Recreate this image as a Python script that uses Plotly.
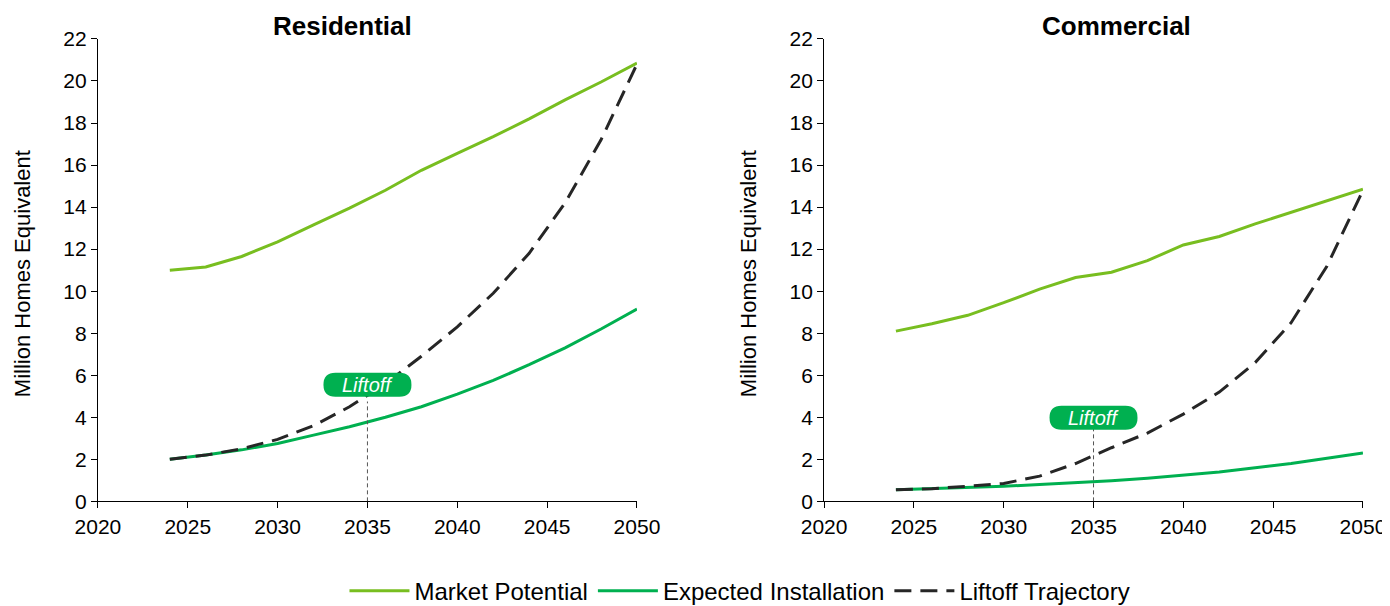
import plotly.graph_objects as go

years = [2024, 2026, 2028, 2030, 2032, 2034, 2036, 2038, 2040, 2042, 2044, 2046, 2048, 2050]

res_market = [11.0, 11.15, 11.65, 12.35, 13.15, 13.95, 14.8, 15.75, 16.55, 17.35, 18.2, 19.1, 19.95, 20.85]
res_expected = [2.0, 2.2, 2.45, 2.75, 3.15, 3.55, 4.0, 4.5, 5.1, 5.75, 6.5, 7.3, 8.2, 9.15]
res_liftoff = [2.0, 2.2, 2.5, 2.95, 3.6, 4.5, 5.6, 6.9, 8.3, 9.9, 11.8, 14.2, 17.2, 20.8]

com_market = [8.1, 8.45, 8.85, 9.45, 10.1, 10.65, 10.9, 11.45, 12.2, 12.6, 13.2, 13.75, 14.3, 14.85]
com_expected = [0.55, 0.6, 0.65, 0.72, 0.8, 0.88, 0.98, 1.1, 1.25, 1.4, 1.6, 1.8, 2.05, 2.3]
com_liftoff = [0.55, 0.6, 0.72, 0.85, 1.2, 1.8, 2.55, 3.25, 4.15, 5.2, 6.6, 8.5, 11.2, 14.8]

liftoff_year = 2035
res_label_y = 5.55
com_label_y = 3.98
res_vline_top = 4.75
com_vline_top = 3.45

panel_titles = ["Residential", "Commercial"]
series_names = ["Market Potential", "Expected Installation", "Liftoff Trajectory"]
y_ticks = list(range(0, 23, 2))
x_ticks = list(range(2020, 2051, 5))

C_MARKET = "#78BE20"
C_EXPECTED = "#00B050"
C_LIFTOFF = "#262626"
FONT = "Liberation Sans, Arial, sans-serif"

fig = go.Figure()

panels = [
    ("x", "y", res_market, res_expected, res_liftoff, True),
    ("x2", "y2", com_market, com_expected, com_liftoff, False),
]
for xa, ya, m, e, l, show in panels:
    fig.add_trace(go.Scatter(x=years, y=m, mode="lines", name=series_names[0],
                             line=dict(color=C_MARKET, width=3), xaxis=xa, yaxis=ya,
                             showlegend=show, legendgroup="m"))
    fig.add_trace(go.Scatter(x=years, y=e, mode="lines", name=series_names[1],
                             line=dict(color=C_EXPECTED, width=3), xaxis=xa, yaxis=ya,
                             showlegend=show, legendgroup="e"))
    fig.add_trace(go.Scatter(x=years, y=l, mode="lines", name=series_names[2],
                             line=dict(color=C_LIFTOFF, width=3, dash="17px,9px"),
                             xaxis=xa, yaxis=ya, showlegend=show, legendgroup="l"))

axis_common = dict(showgrid=False, zeroline=False, showline=True, linecolor="#000000",
                   linewidth=1, ticks="outside", ticklen=6, tickcolor="#000000",
                   automargin=False,
                   tickfont=dict(family=FONT, size=21, color="#000000"))

fig.update_layout(
    width=1390, height=606,
    margin=dict(l=0, r=0, t=0, b=0),
    paper_bgcolor="white", plot_bgcolor="white",
    xaxis=dict(domain=[0.0647, 0.4525], range=[2020, 2050], tickvals=x_ticks, anchor="y", **axis_common),
    yaxis=dict(domain=[0.1832, 0.9488], range=[0, 22], tickvals=y_ticks, anchor="x", **axis_common),
    xaxis2=dict(domain=[0.5871, 0.9748], range=[2020, 2050], tickvals=x_ticks, anchor="y2", **axis_common),
    yaxis2=dict(domain=[0.1832, 0.9488], range=[0, 22], tickvals=y_ticks, anchor="x2", **axis_common),
    legend=dict(orientation="h", x=0.5266, xanchor="center", y=0.0347, yanchor="middle",
                font=dict(family=FONT, size=24, color="#000000"), itemwidth=60,
                tracegroupgap=0),
    showlegend=True,
)

# panel titles
for xc, t in [(0.2403, panel_titles[0]), (0.7978, panel_titles[1])]:
    fig.add_annotation(x=xc, y=0.970, xref="paper", yref="paper", text="<b>%s</b>" % t,
                       showarrow=False, font=dict(family=FONT, size=26, color="#000000"),
                       xanchor="center", yanchor="middle")

# y axis titles
for xc in [0.0101, 0.5324]:
    fig.add_annotation(x=xc, y=0.5594, xref="paper", yref="paper", text="Million Homes Equivalent",
                       textangle=-90, showarrow=False,
                       font=dict(family=FONT, size=22, color="#000000"),
                       xanchor="center", yanchor="middle")

# liftoff markers
for xa, ya, ly, vt in [("x", "y", res_label_y, res_vline_top), ("x2", "y2", com_label_y, com_vline_top)]:
    fig.add_shape(type="line", xref=xa, yref=ya, x0=liftoff_year, x1=liftoff_year, y0=0, y1=vt,
                  line=dict(color="#555555", width=1, dash="4px,3px"))
    w, h, r = 44, 12, 12
    path = ("M %g,%g L %g,%g Q %g,%g %g,%g L %g,%g Q %g,%g %g,%g L %g,%g Q %g,%g %g,%g "
            "L %g,%g Q %g,%g %g,%g Z") % (
        -w + r, h, w - r, h, w, h, w, 0, w, 0, w, -h, w - r, -h,
        -w + r, -h, -w, -h, -w, 0, -w, 0, -w, h, -w + r, h)
    fig.add_shape(type="path", xref=xa, yref=ya, xsizemode="pixel", ysizemode="pixel",
                  xanchor=liftoff_year, yanchor=ly, path=path,
                  fillcolor=C_EXPECTED, line=dict(width=0))
    fig.add_annotation(x=liftoff_year, y=ly, xref=xa, yref=ya, text="<i>Liftoff</i>",
                       showarrow=False, font=dict(family=FONT, size=20, color="white"),
                       xanchor="center", yanchor="middle")

fig.write_html("out.html")
